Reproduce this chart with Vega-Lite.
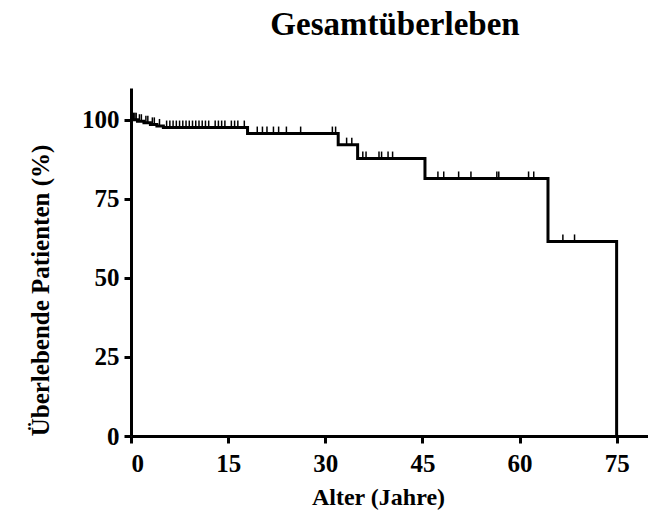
{
  "$schema": "https://vega.github.io/schema/vega-lite/v6.json",
  "width": 518,
  "height": 348,
  "autosize": "none",
  "padding": {"left": 131, "top": 88, "right": 0, "bottom": 77},
  "background": "white",
  "title": {
    "text": "Gesamtüberleben",
    "font": "Liberation Serif",
    "fontSize": 33,
    "fontWeight": "bold",
    "color": "black",
    "anchor": "middle",
    "frame": "group",
    "dx": 5,
    "offset": 46
  },
  "config": {
    "view": {"stroke": null},
    "axis": {
      "grid": false,
      "domainColor": "black",
      "domainWidth": 3,
      "tickColor": "black",
      "tickWidth": 3,
      "tickSize": 7,
      "labelFont": "Liberation Serif",
      "labelFontSize": 25,
      "labelFontWeight": "bold",
      "labelColor": "black",
      "titleFont": "Liberation Serif",
      "titleFontSize": 24,
      "titleFontWeight": "bold",
      "titleColor": "black"
    }
  },
  "datasets": {
    "curve": [
      {"t": 0, "s": 100},
      {"t": 1, "s": 99.5},
      {"t": 2, "s": 99.0},
      {"t": 3, "s": 98.5},
      {"t": 4, "s": 98.0},
      {"t": 5, "s": 97.5},
      {"t": 18, "s": 95.6},
      {"t": 32, "s": 92.1},
      {"t": 35, "s": 87.7},
      {"t": 45.4, "s": 81.4},
      {"t": 64.4, "s": 61.5},
      {"t": 75, "s": 0}
    ],
    "censored": [
      {"t": 0.2, "s": 100}, {"t": 0.4, "s": 100}, {"t": 0.6, "s": 100}, {"t": 0.8, "s": 100},
      {"t": 1.3, "s": 99.5}, {"t": 1.6, "s": 99.5},
      {"t": 2.3, "s": 99.0}, {"t": 2.6, "s": 99.0},
      {"t": 3.3, "s": 98.5}, {"t": 3.6, "s": 98.5},
      {"t": 4.4, "s": 98.0},
      {"t": 5.5, "s": 97.5}, {"t": 6.0, "s": 97.5}, {"t": 6.5, "s": 97.5}, {"t": 7.0, "s": 97.5},
      {"t": 7.5, "s": 97.5}, {"t": 8.0, "s": 97.5}, {"t": 8.5, "s": 97.5}, {"t": 9.0, "s": 97.5},
      {"t": 9.5, "s": 97.5}, {"t": 10.0, "s": 97.5}, {"t": 10.5, "s": 97.5}, {"t": 11.0, "s": 97.5},
      {"t": 11.5, "s": 97.5}, {"t": 12.0, "s": 97.5}, {"t": 13.0, "s": 97.5}, {"t": 13.5, "s": 97.5},
      {"t": 14.0, "s": 97.5}, {"t": 14.5, "s": 97.5}, {"t": 15.5, "s": 97.5}, {"t": 16.0, "s": 97.5},
      {"t": 16.5, "s": 97.5}, {"t": 17.5, "s": 97.5},
      {"t": 19.5, "s": 95.6}, {"t": 20.3, "s": 95.6}, {"t": 21.0, "s": 95.6}, {"t": 22.0, "s": 95.6},
      {"t": 22.8, "s": 95.6}, {"t": 24.0, "s": 95.6}, {"t": 26.2, "s": 95.6}, {"t": 31.1, "s": 95.6},
      {"t": 31.6, "s": 95.6},
      {"t": 33.3, "s": 92.1}, {"t": 34.1, "s": 92.1},
      {"t": 35.8, "s": 87.7}, {"t": 36.3, "s": 87.7}, {"t": 38.3, "s": 87.7}, {"t": 38.7, "s": 87.7},
      {"t": 39.7, "s": 87.7}, {"t": 40.4, "s": 87.7},
      {"t": 47.4, "s": 81.4}, {"t": 48.3, "s": 81.4}, {"t": 50.6, "s": 81.4}, {"t": 52.5, "s": 81.4},
      {"t": 56.5, "s": 81.4}, {"t": 56.8, "s": 81.4}, {"t": 61.4, "s": 81.4}, {"t": 62.2, "s": 81.4},
      {"t": 66.7, "s": 61.5}, {"t": 68.5, "s": 61.5}
    ]
  },
  "layer": [
    {
      "data": {"name": "curve"},
      "mark": {"type": "line", "interpolate": "step-after", "color": "black", "strokeWidth": 3},
      "encoding": {
        "x": {
          "field": "t", "type": "quantitative",
          "scale": {"domain": [0, 80], "nice": false},
          "axis": {
            "values": [0, 15, 30, 45, 60, 75],
            "labelPadding": 8,
            "title": "Alter (Jahre)",
            "titleX": 247,
            "titleY": 61,
            "titleBaseline": "middle",
            "titleAlign": "center"
          }
        },
        "y": {
          "field": "s", "type": "quantitative",
          "scale": {"domain": [0, 110], "nice": false},
          "axis": {
            "values": [0, 25, 50, 75, 100],
            "labelPadding": 5,
            "title": "Überlebende Patienten (%)",
            "titleFontSize": 25,
            "titleX": -91,
            "titleY": 202,
            "titleAngle": -90,
            "titleBaseline": "middle",
            "titleAlign": "center"
          }
        }
      }
    },
    {
      "data": {"name": "censored"},
      "mark": {"type": "rule", "color": "black", "strokeWidth": 1.5, "y2Offset": -7},
      "encoding": {
        "x": {"field": "t", "type": "quantitative"},
        "y": {"field": "s", "type": "quantitative"},
        "y2": {"field": "s"}
      }
    }
  ]
}
